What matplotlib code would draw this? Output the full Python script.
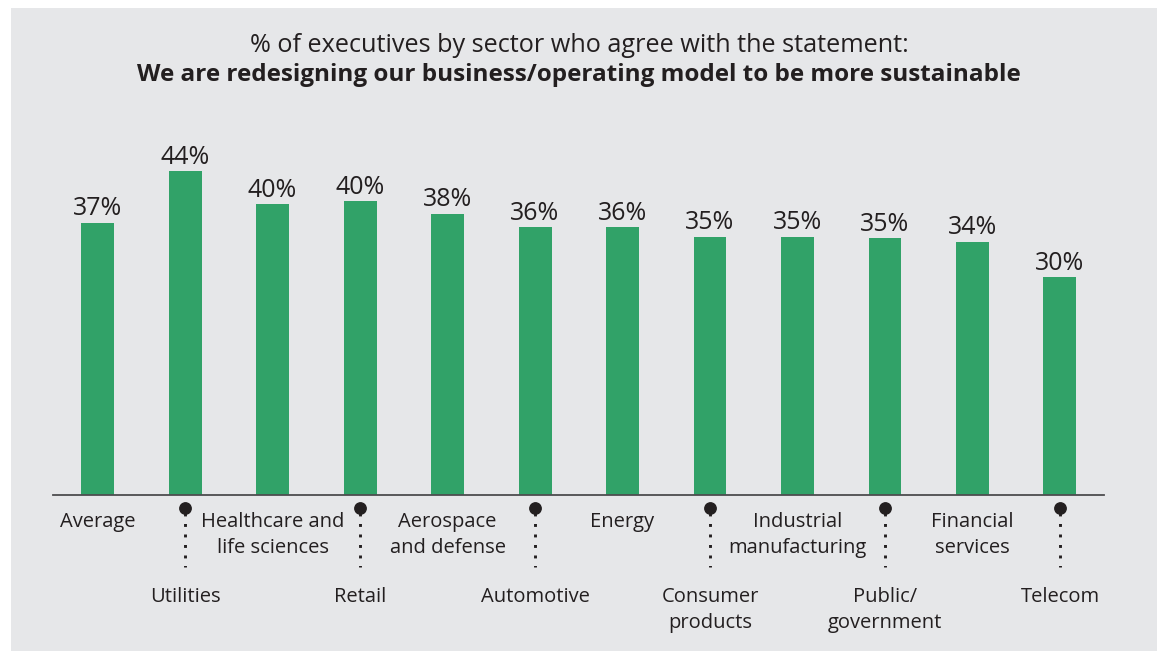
import matplotlib
matplotlib.use("Agg")
import matplotlib.pyplot as plt
from matplotlib.patches import Rectangle

# ---- data ----
sectors = ["Average", "Utilities", "Healthcare and\nlife sciences", "Retail",
           "Aerospace\nand defense", "Automotive", "Energy", "Consumer\nproducts",
           "Industrial\nmanufacturing", "Public/\ngovernment", "Financial\nservices", "Telecom"]
values = [37.0, 44.0, 39.5, 39.9, 38.2, 36.4, 36.4, 35.1, 35.1, 34.9, 34.4, 29.6]
value_labels = ["37%", "44%", "40%", "40%", "38%", "36%", "36%", "35%", "35%", "35%", "34%", "30%"]
title_line1 = "% of executives by sector who agree with the statement:"
title_line2 = "We are redesigning our business/operating model to be more sustainable"

W, H = 1157, 652
BG = "#e6e7e9"
GREEN = "#31a268"
TXT = "#231f20"
FONT = ["Open Sans", "DejaVu Sans"]

fig = plt.figure(figsize=(W / 100, H / 100), dpi=100)
fig.patch.set_facecolor("white")
bg = Rectangle((11 / W, 1 - 651 / H), (W - 11) / W, (651 - 8) / H,
               transform=fig.transFigure, facecolor=BG, edgecolor="none", zorder=-10)
fig.add_artist(bg)

# axes: x from 53 px to 1104 px, baseline at 495 px, top at 100 px
ax_left, ax_right, ax_bottom, ax_top = 53, 1104, 495, 100
ax = fig.add_axes([ax_left / W, 1 - ax_bottom / H, (ax_right - ax_left) / W, (ax_bottom - ax_top) / H])
ax.set_zorder(1)
ax.set_facecolor("none")
px_per_unit = 7.36
x = list(range(len(sectors)))
ax.bar(x, values, width=0.377, color=GREEN, zorder=2)
ax.set_xlim(-0.509, 11.503)
ax.set_ylim(0, (ax_bottom - ax_top) / px_per_unit)
for s in ["top", "right", "left"]:
    ax.spines[s].set_visible(False)
ax.spines["bottom"].set_color("#4d4d4f")
ax.spines["bottom"].set_linewidth(1.3)
ax.set_xticks([])
ax.set_yticks([])

for xi, v, lab in zip(x, values, value_labels):
    ax.annotate(lab, (xi, v), xytext=(0, 1), textcoords="offset points",
                ha="center", va="bottom", fontsize=18, color=TXT, family=FONT)

# category labels
def ypix(p):
    return 1 - p / H

for xi, name in zip(x, sectors):
    xf = ax.transData.transform((xi, 0))[0] / fig.dpi / (W / 100)
    if xi % 2 == 0:
        fig.text(xf, ypix(512), name, ha="center", va="top", fontsize=14.5,
                 color=TXT, family=FONT, linespacing=1.4)
    else:
        fig.text(xf, ypix(587), name, ha="center", va="top", fontsize=14.5,
                 color=TXT, family=FONT, linespacing=1.4)
        fig.add_artist(plt.Line2D([xf, xf], [ypix(513), ypix(567)], transform=fig.transFigure,
                                  color=TXT, linestyle=(0, (1, 2.6)), linewidth=2.1,
                                  dash_capstyle="butt", zorder=3))
        fig.add_artist(plt.Line2D([xf], [ypix(508)], transform=fig.transFigure,
                                  marker="o", markersize=8.2, color=TXT, linestyle="none", zorder=3))

fig.text(579 / W, ypix(45), title_line1, ha="center", va="center", fontsize=18.2,
         color=TXT, family=FONT)
fig.text(579 / W, ypix(75), title_line2, ha="center", va="center", fontsize=17.5,
         color=TXT, family=FONT, weight="bold")

fig.savefig("out.png", dpi=100, facecolor=fig.get_facecolor())
